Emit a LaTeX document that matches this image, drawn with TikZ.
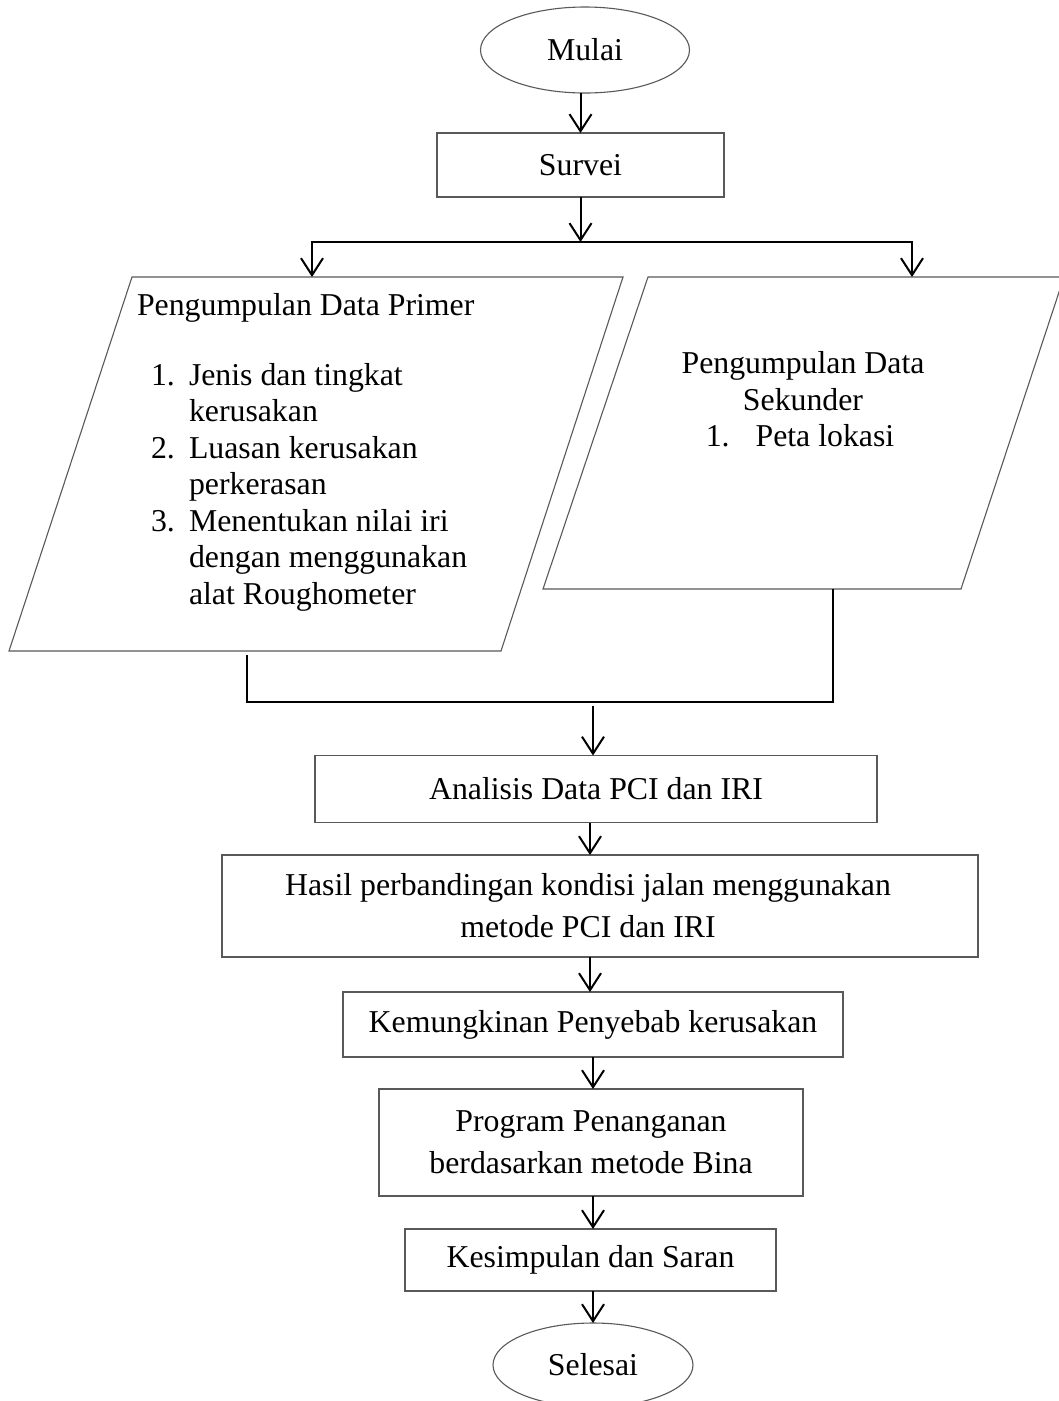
\documentclass[tikz,border=0pt]{standalone}
\usepackage{fontspec}
\setmainfont{Liberation Serif}
\usetikzlibrary{shapes.geometric,arrows.meta}
\begin{document}
\begin{tikzpicture}[x=1pt,y=-1pt,
  every node/.style={font=\fontsize{31.8}{36.5}\selectfont, inner sep=0pt, outer sep=0pt},
  shapeline/.style={draw=black!65, line width=1.1pt},
  procbox/.style={shapeline, rectangle},
  startend/.style={shapeline, ellipse},
  twoline/.style={align=center, font=\fontsize{31.8}{42}\selectfont},
  txt/.style={anchor=base west},
  conn/.style={line width=2pt, draw=black},
  thickconn/.style={line width=2.6pt, draw=black, line cap=rect},
  arr/.style={conn, -{Straight Barb[length=17pt,width=22pt,line width=2pt]}},
]
\clip (0,0) rectangle (1059,1401);
\fill[white] (0,0) rectangle (1059,1401);

% --- terminals and process boxes
\node[startend, minimum width=209pt, minimum height=86pt] (mulai) at (585,50) {Mulai};
\node[procbox, minimum width=287pt, minimum height=64pt] (survei) at (580.5,165) {Survei};
\node[procbox, minimum width=562pt, minimum height=67pt] (anal) at (596,789) {Analisis Data PCI dan IRI};
\node[procbox, minimum width=756pt, minimum height=102pt] (hasil) at (600,906) {};
\node[twoline] (hasilT) at (588,906) {Hasil perbandingan kondisi jalan menggunakan\\metode PCI dan IRI};
\node[procbox, minimum width=500pt, minimum height=65pt] (kemung) at (593,1024.5) {Kemungkinan Penyebab kerusakan};
\node[procbox, twoline, minimum width=424pt, minimum height=107pt] (prog) at (591,1142.5) {Program Penanganan\\berdasarkan metode Bina};
\node[procbox, minimum width=371pt, minimum height=62pt] (kesim) at (590.5,1260) {Kesimpulan dan Saran};
\node[startend, minimum width=200pt, minimum height=84pt] (selesai) at (593,1365) {Selesai};

% --- data parallelograms
\draw[shapeline] (132,277) -- (623,277) -- (501,651) -- (9,651) -- cycle;
\draw[shapeline] (648,277) -- (1064,277) -- (961,589) -- (543,589) -- cycle;

\node[txt] (primT) at (137,315) {Pengumpulan Data Primer};
\node[txt] (pn1) at (151,385) {1.};
\node[txt] (pa1) at (189,385) {Jenis dan tingkat};
\node[txt] (pb1) at (189,421.5) {kerusakan};
\node[txt] (pn2) at (151,458) {2.};
\node[txt] (pa2) at (189,458) {Luasan kerusakan};
\node[txt] (pb2) at (189,494.5) {perkerasan};
\node[txt] (pn3) at (151,531) {3.};
\node[txt] (pa3) at (189,531) {Menentukan nilai iri};
\node[txt] (pb3) at (189,567.5) {dengan menggunakan};
\node[txt] (pc3) at (189,604) {alat Roughometer};

\node[anchor=base] (sekT1) at (803,373) {Pengumpulan Data};
\node[anchor=base] (sekT2) at (803,410) {Sekunder};
\node[anchor=base] (sekT3) at (800,446) {1.\hspace{26pt}Peta lokasi};

% --- connector points
\coordinate (split) at (580.5,242);
\coordinate (splitL) at (312,242);
\coordinate (splitR) at (912,242);
\coordinate (primTop) at (312,277);
\coordinate (sekTop) at (912,277);
\coordinate (primBot) at (247,655);
\coordinate (sekBot) at (833,589);
\coordinate (mergeL) at (247,702);
\coordinate (mergeR) at (833,702);
\coordinate (mergeC) at (593,706);

% --- connectors
\draw[arr] (mulai.south -| survei.north) -- (survei.north);
\draw[arr] (survei.south) -- (split);
\draw[thickconn] (splitL) -- (splitR);
\draw[arr] (splitL) -- (primTop);
\draw[arr] (splitR) -- (sekTop);
\draw[conn, line width=2.4pt] (primBot) -- (mergeL);
\draw[conn, line width=2.4pt] (sekBot) -- (mergeR);
\draw[thickconn] (mergeL) -- (mergeR);
\draw[arr] (mergeC) -- (mergeC |- anal.north);
\draw[arr] (anal.south -| 590,0) -- (hasil.north -| 590,0);
\draw[arr] (hasil.south -| 590,0) -- (kemung.north -| 590,0);
\draw[arr] (kemung.south) -- (kemung.south |- prog.north);
\draw[arr] (prog.south -| 593,0) -- (kesim.north -| 593,0);
\draw[arr] (kesim.south -| 593,0) -- (selesai.north);
\end{tikzpicture}
\end{document}
